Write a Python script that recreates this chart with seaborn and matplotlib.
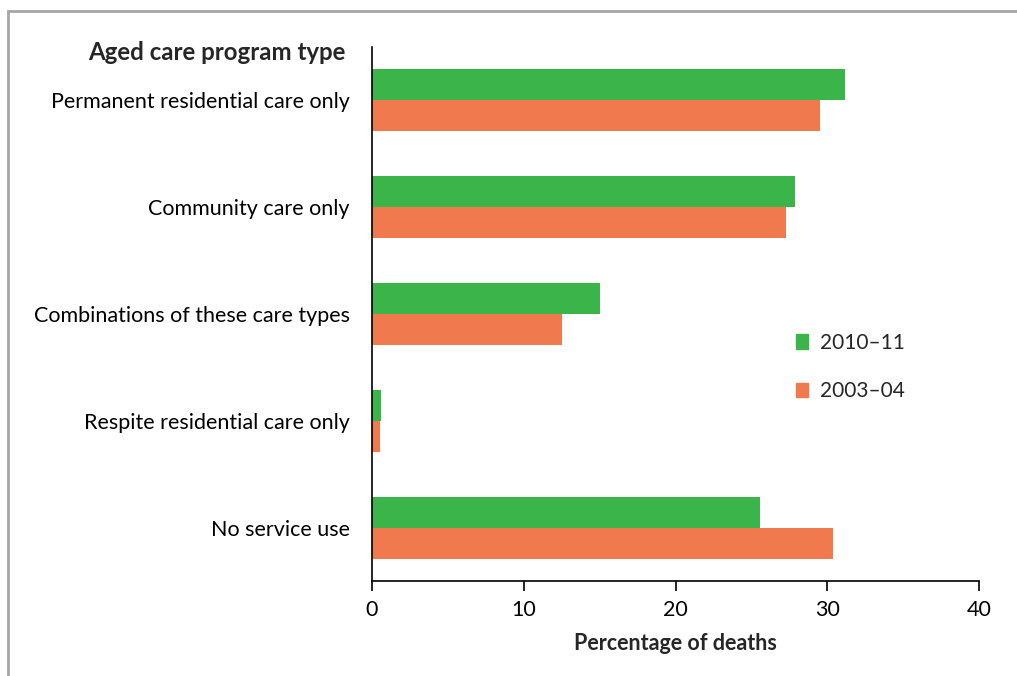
import matplotlib.pyplot as plt
import matplotlib.patches as mpatches
import numpy as np
import pandas as pd
import seaborn as sb

categories = ['Permanent residential care only', 'Community care only',
              'Combinations of these care types', 'Respite residential care only',
              'No service use']
years = ['2010\u201311', '2003\u201304']
vals_2010 = [31.2, 27.9, 15.0, 0.6, 25.6]
vals_2003 = [29.5, 27.3, 12.5, 0.5, 30.4]
xticks = [0, 10, 20, 30, 40]

colours = ['#3BB54A', '#F07A4E']

df = pd.DataFrame({'type': categories * 2,
                   'year': [years[0]] * 5 + [years[1]] * 5,
                   'pct': vals_2010 + vals_2003})

sb.set_style('white')
plt.rcParams['font.family'] = ['Lato', 'DejaVu Sans']

fig = plt.figure(figsize=(10.17, 6.76), dpi=100)
ax = fig.add_axes([372 / 1017, 1 - 581 / 676, 607 / 1017, 534 / 676])

sb.barplot(data=df, y='type', x='pct', hue='year', order=categories, hue_order=years,
           palette=colours, width=0.58, saturation=1, orient='h', ax=ax, legend=False,
           linewidth=0)

ax.set_xlim(0, 40)
ax.set_xticks(xticks)
ax.set_ylim(4.5, -0.5)
ax.tick_params(axis='x', direction='out', length=7, width=1.2, colors='black',
               labelsize=15.5, pad=7, bottom=True)
ax.tick_params(axis='y', length=0, labelsize=15.5, pad=16)
for s in ['top', 'right']:
    ax.spines[s].set_visible(False)
for s in ['left', 'bottom']:
    ax.spines[s].set_color('black')
    ax.spines[s].set_linewidth(1.2)
ax.set_ylabel('')
ax.set_xlabel('Percentage of deaths', fontsize=15.5, fontweight='bold', labelpad=9)
for lab in ax.get_yticklabels():
    lab.set_color('black')

fig.text(346 / 1017, 1 - 53 / 676, 'Aged care program type', ha='right', va='center',
         fontsize=17.3, fontweight='bold')

handles = [mpatches.Patch(color=c, label=y) for c, y in zip(colours, years)]
ax.legend(handles=handles, loc='upper left', bbox_to_anchor=(0.668, 0.50), frameon=False,
          fontsize=15, handlelength=0.55, handleheight=0.7, handletextpad=0.6,
          labelspacing=1.36)

# grey frame around the chart
fig.patches.append(mpatches.Rectangle((8 / 1017, -0.05), 1.1, 1 - 11 / 676 + 0.05,
                                      transform=fig.transFigure, fill=False,
                                      edgecolor='#A6A6A6', linewidth=2))

fig.savefig('out.png', dpi=100)
